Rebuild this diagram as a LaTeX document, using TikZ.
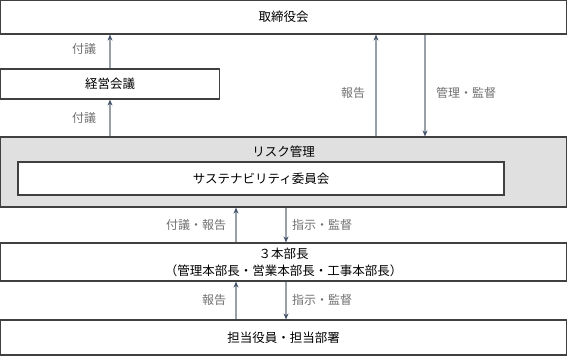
\documentclass[tikz,border=0pt]{standalone}
\usepackage{fontspec}
\setmainfont{Noto Sans CJK JP}
\usetikzlibrary{arrows.meta}
\definecolor{boxline}{HTML}{404040}
\definecolor{arrline}{HTML}{9AA0A8}
\definecolor{arrhead}{HTML}{44546A}
\definecolor{lblgray}{HTML}{707070}
\definecolor{riskfill}{HTML}{E0E0E0}
\begin{document}
\begin{tikzpicture}[x=1pt, y=-1pt,
  box/.style={draw=boxline, line width=1.2pt, fill=white, inner sep=0pt, align=center, font=\fontsize{12.5}{17}\selectfont},
  arr/.style={draw=arrline, line width=1.2pt, -{Stealth[length=6pt,width=5pt,color=arrhead]}},
  lbl/.style={text=lblgray, inner sep=0pt, font=\fontsize{12}{14}\selectfont}]
  \useasboundingbox (0,0) rectangle (568,356);

  \node[box, minimum width=566pt, minimum height=34pt] (board) at (283.5,17) {取締役会};
  \node[box, minimum width=219pt, minimum height=30pt] (keiei) at (110,84) {経営会議};
  \node[box, fill=riskfill, minimum width=566pt, minimum height=70pt] (risk) at (283.5,172) {};
  \node[lbl, text=black, font=\fontsize{12.5}{17}\selectfont] (risklbl) at (283.5,151.5) {リスク管理};
  \node[box, minimum width=486pt, minimum height=33pt] (suste) at (261,178.5) {サステナビリティ委員会};
  \node[box, minimum width=566pt, minimum height=38pt] (hon) at (283.5,262) {３本部長\\（管理本部長・営業本部長・工事本部長）};
  \node[box, minimum width=566pt, minimum height=35pt] (tanto) at (283.5,337.5) {担当役員・担当部署};

  \coordinate (up1) at (376,0);
  \coordinate (dn1) at (425,0);
  \coordinate (up2) at (236,0);
  \coordinate (dn2) at (286,0);

  \draw[arr] (keiei.north) -- (keiei.north |- board.south);
  \draw[arr] (risk.north -| keiei) -- (keiei.south);
  \draw[arr] (risk.north -| up1) -- (board.south -| up1);
  \draw[arr] (board.south -| dn1) -- (risk.north -| dn1);
  \draw[arr] (hon.north -| up2) -- (risk.south -| up2);
  \draw[arr] (risk.south -| dn2) -- (hon.north -| dn2);
  \draw[arr] (tanto.north -| up2) -- (hon.south -| up2);
  \draw[arr] (hon.south -| dn2) -- (tanto.north -| dn2);

  \node[lbl] (l1) at (84,49) {付議};
  \node[lbl] (l2) at (84,118) {付議};
  \node[lbl] (l3) at (353,93) {報告};
  \node[lbl] (l4) at (466,93) {管理・監督};
  \node[lbl] (l5) at (196,225) {付議・報告};
  \node[lbl] (l6) at (322,225) {指示・監督};
  \node[lbl] (l7) at (214,300) {報告};
  \node[lbl] (l8) at (322,300) {指示・監督};
\end{tikzpicture}
\end{document}
